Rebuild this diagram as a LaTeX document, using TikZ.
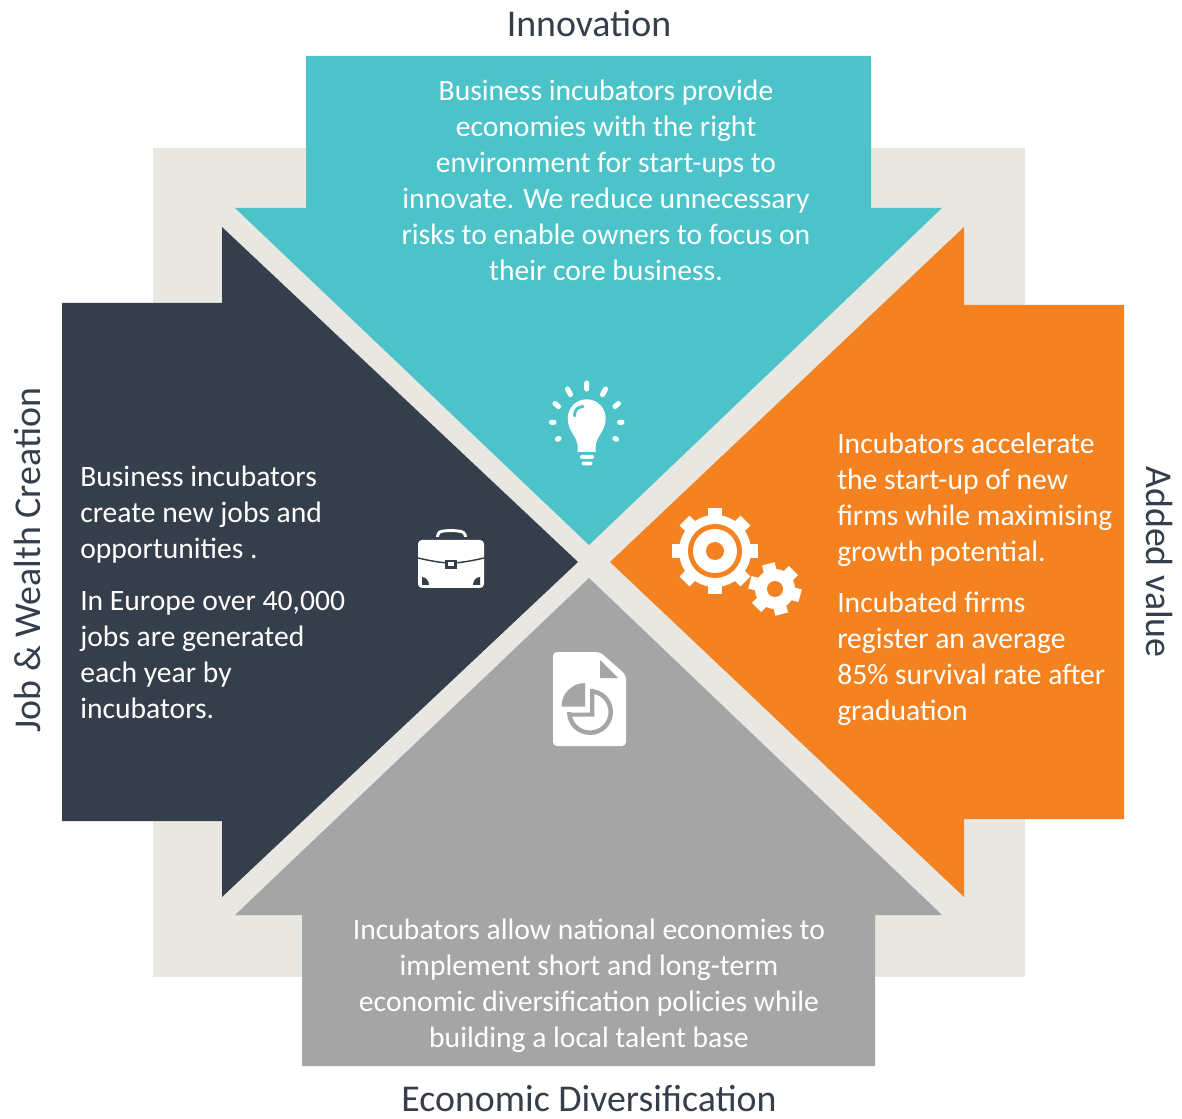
\documentclass[tikz,border=0pt]{standalone}
\usepackage{fontspec}
\setmainfont{Carlito}
\definecolor{teal1}{HTML}{4BC3C9}
\definecolor{orange1}{HTML}{F58220}
\definecolor{dark1}{HTML}{353E4B}
\definecolor{gray1}{HTML}{A5A5A5}
\definecolor{beige1}{HTML}{E8E7E2}
\tikzset{
  bodytext/.style={text=white,font=\fontsize{22.2}{27}\selectfont,inner sep=0pt},
  headtext/.style={text=dark1,font=\fontsize{28.4}{32}\selectfont,inner sep=0pt},
}
\begin{document}
\begin{tikzpicture}[x=0.75pt,y=-0.75pt]
\useasboundingbox (0,0) rectangle (1182,1119);
\fill[white] (0,0) rectangle (1182,1119);
\fill[beige1] (153,148) rectangle (1025,977);
\fill[teal1] (306,56)--(871,56)--(871,208)--(942,208)--(589,545)--(235,208)--(306,208)--cycle;
\fill[orange1] (1124,305)--(964,305)--(964,227)--(610,562)--(964,897)--(964,819)--(1124,819)--cycle;
\fill[dark1] (62,303)--(222,303)--(222,227)--(578,562)--(222,897)--(222,821)--(62,821)--cycle;
\fill[gray1] (302,1066)--(875,1066)--(875,915)--(942,915)--(589,578)--(235,915)--(302,915)--cycle;

\node[headtext] (hInnov) at (589,24) {Innovation};
\node[headtext] (hEcon) at (589,1099) {Economic Diversification};
\node[headtext,rotate=90] (hJob) at (27,560) {Job \& Wealth Creation};
\node[headtext,rotate=-90] (hAdd) at (1159,562) {Added value};

\node[bodytext,align=center,anchor=north] (tInnov) at (606,79.5) {Business incubators provide\\economies with the right\\environment for start-ups to\\innovate. We reduce unnecessary\\risks to enable owners to focus on\\their core business.};
\node[bodytext,align=center,anchor=north] (tEcon) at (589,919) {Incubators allow national economies to\\implement short and long-term\\economic diversification policies while\\building a local talent base};
\node[bodytext,align=left,anchor=north west] (tJob1) at (80,466) {Business incubators\\create new jobs and\\opportunities .};
\node[bodytext,align=left,anchor=north west] (tJob2) at (80,591) {In Europe over 40,000\\jobs are generated\\each year by\\incubators.};
\node[bodytext,align=left,anchor=north west] (tAdd1) at (837,432.5) {Incubators accelerate\\the start-up of new\\firms while maximising\\growth potential.};
\node[bodytext,align=left,anchor=north west] (tAdd2) at (837,592) {Incubated firms\\register an average\\85\% survival rate after\\graduation};

% bulb
\fill[white] (577.7,452) -- (577.7,446) .. controls (577,436) and (567.7,431) .. (567.7,418.3) arc[start angle=180,end angle=360,radius=19] .. controls (605.7,431) and (596.4,436) .. (595.7,446) -- (595.7,452) -- cycle;
\draw[teal1,line width=2.2pt,line cap=round] (574.5,416) .. controls (574.5,410) and (577.5,407) .. (583,406.5);
\fill[white,rounded corners=1pt] (580,455) rectangle (594,459);
\fill[white,rounded corners=1pt] (581.7,461.7) rectangle (592.3,465.3);
\draw[white,line width=3.8pt,line cap=round]
 (586.7,383)--(586.7,389) (567.5,389)--(570.5,394.5) (605.5,389)--(602.5,394.5)
 (555,403.5)--(558.5,406.5) (618.5,403.5)--(615,406.5) (551.5,422.3)--(554,422.3) (619.5,422.3)--(622,422.3)
 (557.5,439.3)--(559,438.5) (615,438.5)--(616.5,439.3);

% briefcase
\draw[white,line width=2.2pt,rounded corners=2pt] (437.5,537)--(437.5,534)..controls (442,530) and (460,530) .. (465.5,534)--(465.5,537);
\fill[white,rounded corners=3pt] (418,540) rectangle (484,588);
\draw[dark1,line width=1.1pt] (418,558) .. controls (435,562) and (445,563) .. (451,563) .. controls (457,563) and (467,562) .. (484,558);
\fill[dark1] (445,560) rectangle (457,569);
\fill[white] (448,562.5) rectangle (454,566.5);
\fill[dark1] (422,585) -- (422,577) .. controls (426,577) and (429,581) .. (429,585) -- cycle;
\fill[dark1] (480,585) -- (480,577) .. controls (476,577) and (473,581) .. (473,585) -- cycle;

% gears
\foreach \a in {0,45,...,315}{\fill[white,shift={(715,551)},rotate=\a] (-7,-35) rectangle (7,-43);}
\fill[white] (715,551) circle[radius=36];
\fill[orange1] (715,551) circle[radius=27];
\fill[white] (715,551) circle[radius=22];
\fill[orange1] (715,551) circle[radius=9];
\foreach \a in {15,75,...,315}{\fill[white,shift={(775,589)},rotate=\a] (-6.5,-18) rectangle (6.5,-26);}
\fill[white] (775,589) circle[radius=20];
\fill[orange1] (775,589) circle[radius=8];

% document
\fill[white,rounded corners=3pt] (553,652)--(600,652)--(626,675)--(626,746)--(553,746)--cycle;
\fill[gray1] (600,660)--(600,678)--(618,678)--cycle;
\fill[gray1] (585,686)--(585,706.5)--(561.5,706.5) arc[start angle=180,end angle=270,radius=23.5] -- cycle;
\fill[gray1] (590,689) arc[start angle=-90,end angle=180,radius=23] -- ++(4.5,0) arc[start angle=180,end angle=-90,radius=18.5] -- cycle;
\fill[gray1] (590,689) rectangle (594.3,716.5) (571.5,712.5) rectangle (594.3,716.5);
\end{tikzpicture}
\end{document}
